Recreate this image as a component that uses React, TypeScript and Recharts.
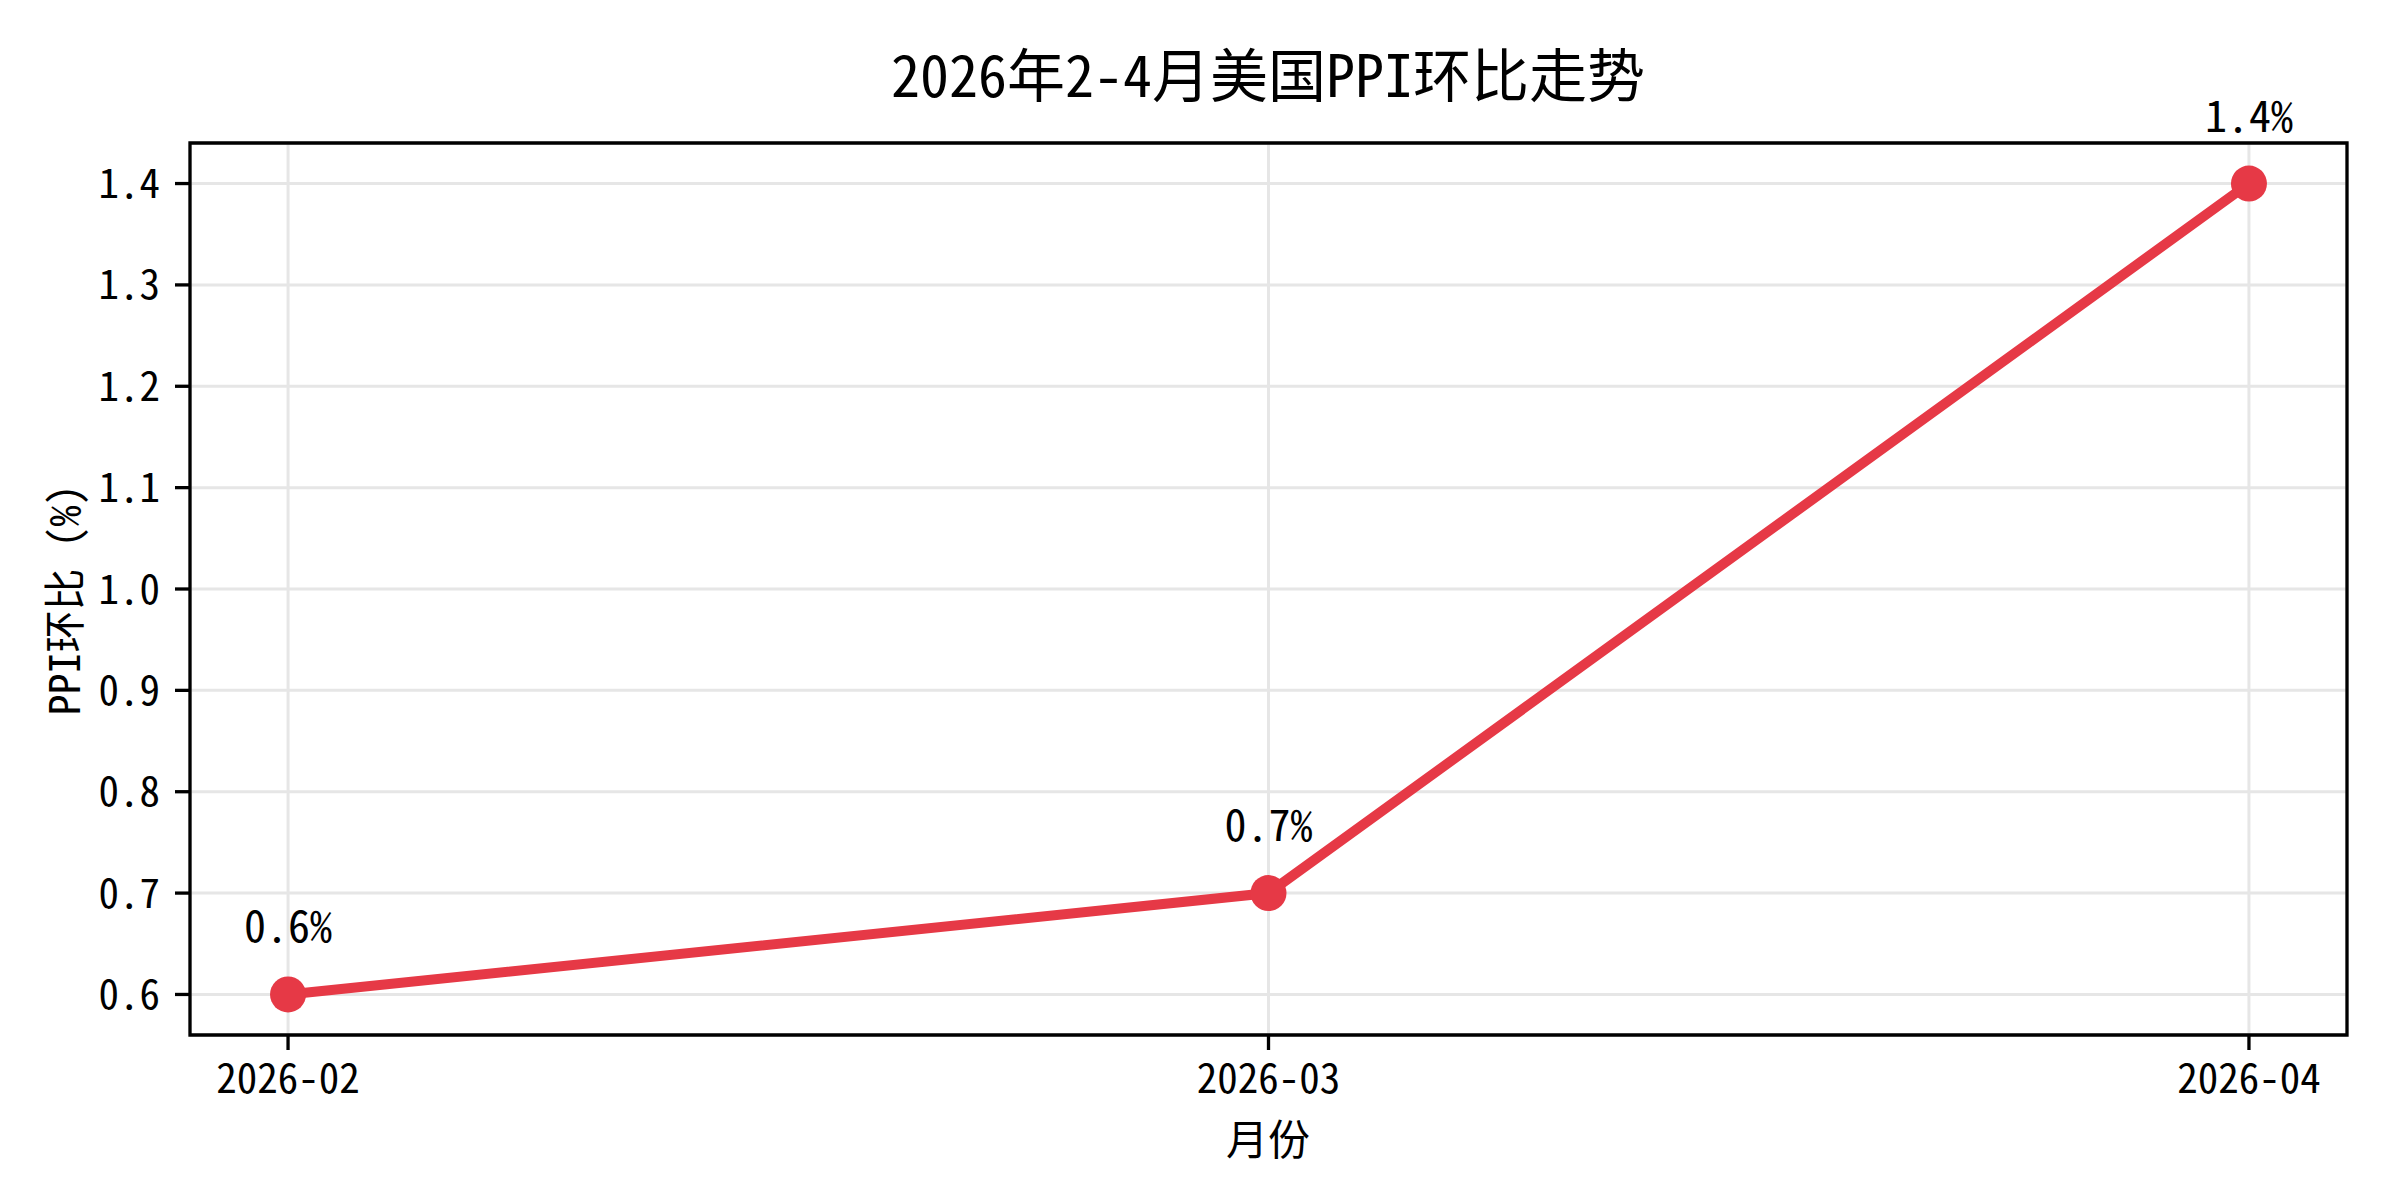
import React from 'react';
import { LineChart, Line, XAxis, YAxis, CartesianGrid, ReferenceArea, LabelList } from 'recharts';

const months = ['2026-02', '2026-03', '2026-04'];
const ppiMoM = [0.6, 0.7, 1.4];
const yTicks = [0.6, 0.7, 0.8, 0.9, 1.0, 1.1, 1.2, 1.3, 1.4];
const xTicks = [0, 1, 2];

const chartTitle = '2026年2-4月美国PPI环比走势';
const xLabel = '月份';
const yLabel = 'PPI环比 (%)';

const RED = '#e63946';
const FONT = '"Noto Sans CJK SC", "Noto Sans", sans-serif';

document.body.style.margin = '0';

const data = months.map((month, i) => ({ idx: i, month, value: ppiMoM[i] }));

export default function App() {
  return (
    <div
      style={{
        position: 'relative',
        width: 2400,
        height: 1200,
        background: '#fff',
        fontFamily: FONT,
        fontFeatureSettings: '"hwid" 1',
        color: '#000',
      }}
    >
      <div
        style={{
          position: 'absolute',
          left: 1268,
          top: 72,
          transform: 'translate(-50%, -50%)',
          fontSize: 58,
          whiteSpace: 'nowrap',
          lineHeight: 1,
        }}
      >
        {chartTitle}
      </div>
      <div
        style={{
          position: 'absolute',
          left: 1268,
          top: 1137,
          transform: 'translate(-50%, -50%)',
          fontSize: 42,
          whiteSpace: 'nowrap',
          lineHeight: 1,
        }}
      >
        {xLabel}
      </div>
      <div
        style={{
          position: 'absolute',
          left: 62,
          top: 600,
          transform: 'translate(-50%, -50%) rotate(-90deg)',
          fontSize: 42,
          whiteSpace: 'nowrap',
          lineHeight: 1,
        }}
      >
        {yLabel}
      </div>
      <LineChart
        width={2400}
        height={1200}
        data={data}
        margin={{ top: 143, right: 53, bottom: 105, left: 70 }}
      >
        <CartesianGrid stroke="#e6e6e6" strokeWidth={3} />
        <XAxis
          type="number"
          dataKey="idx"
          domain={[-0.1, 2.1]}
          ticks={xTicks}
          allowDataOverflow
          height={60}
          tickFormatter={(i: number) => months[i]}
          axisLine={false}
          tickLine={{ stroke: '#000', strokeWidth: 3.3 }}
          tickSize={15}
          tickMargin={14}
          tick={{ fill: '#000', fontSize: 41, fontFamily: FONT }}
        />
        <YAxis
          type="number"
          domain={[0.56, 1.44]}
          ticks={yTicks}
          allowDataOverflow
          width={120}
          tickFormatter={(v: number) => v.toFixed(1)}
          axisLine={false}
          tickLine={{ stroke: '#000', strokeWidth: 3.3 }}
          tickSize={15}
          tickMargin={15}
          tick={{ fill: '#000', fontSize: 41, fontFamily: FONT }}
        />
        <ReferenceArea
          x1={-0.1}
          x2={2.1}
          y1={0.56}
          y2={1.44}
          fill="none"
          fillOpacity={0}
          stroke="#000"
          strokeWidth={3.3}
          ifOverflow="visible"
        />
        <Line
          type="linear"
          dataKey="value"
          stroke={RED}
          strokeWidth={10}
          dot={{ r: 18, fill: RED, stroke: RED, strokeWidth: 0 }}
          activeDot={false}
          isAnimationActive={false}
        >
          <LabelList
            dataKey="value"
            position="top"
            offset={52}
            formatter={(v: number) => `${v}%`}
            fill="#000"
            fontSize={44}
            fontFamily={FONT}
          />
        </Line>
      </LineChart>
    </div>
  );
}
